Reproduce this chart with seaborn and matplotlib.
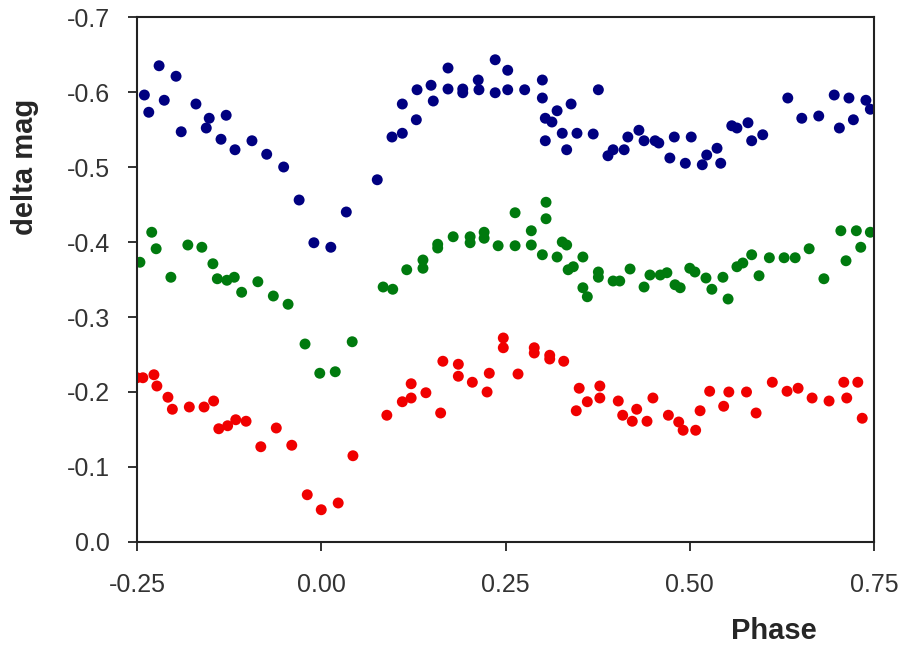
import pandas as pd
import matplotlib
matplotlib.use("Agg")
from matplotlib import pyplot as plt
import seaborn as sns

# fase e magnitudi
blue_phase = [-0.240, -0.234, -0.220, -0.213, -0.197, -0.190, -0.170, -0.156, -0.152, -0.129,
              -0.136, -0.117, -0.094, -0.074, -0.051, -0.030, -0.010, 0.013, 0.034, 0.076,
              0.096, 0.110, 0.110, 0.129, 0.130, 0.149, 0.152, 0.172, 0.172, 0.192,
              0.192, 0.213, 0.214, 0.236, 0.236, 0.253, 0.253, 0.276, 0.300, 0.300,
              0.376, 0.339, 0.320, 0.304, 0.313, 0.304, 0.327, 0.333, 0.347, 0.369,
              0.389, 0.396, 0.411, 0.416, 0.431, 0.438, 0.453, 0.458, 0.479, 0.473,
              0.494, 0.502, 0.517, 0.523, 0.537, 0.542, 0.557, 0.564, 0.579, 0.584,
              0.599, 0.633, 0.652, 0.675, 0.696, 0.703, 0.716, 0.722, 0.739, 0.745]
blue_mag = [-0.596, -0.573, -0.635, -0.589, -0.621, -0.547, -0.584, -0.552, -0.565, -0.569,
            -0.537, -0.523, -0.535, -0.517, -0.500, -0.456, -0.399, -0.393, -0.440, -0.483,
            -0.540, -0.545, -0.584, -0.563, -0.603, -0.609, -0.588, -0.632, -0.604, -0.604,
            -0.599, -0.616, -0.603, -0.643, -0.599, -0.629, -0.603, -0.603, -0.616, -0.592,
            -0.603, -0.584, -0.575, -0.565, -0.560, -0.535, -0.545, -0.523, -0.545, -0.544,
            -0.515, -0.523, -0.523, -0.540, -0.549, -0.535, -0.535, -0.532, -0.540, -0.512,
            -0.505, -0.540, -0.503, -0.516, -0.525, -0.505, -0.555, -0.552, -0.559, -0.535,
            -0.543, -0.592, -0.565, -0.568, -0.596, -0.552, -0.592, -0.563, -0.589, -0.577]

green_phase = [-0.246, -0.230, -0.224, -0.204, -0.181, -0.162, -0.147, -0.141, -0.128, -0.118,
               -0.108, -0.086, -0.065, -0.045, -0.022, -0.002, 0.019, 0.042, 0.084, 0.097,
               0.116, 0.138, 0.138, 0.158, 0.158, 0.179, 0.202, 0.202, 0.221, 0.221,
               0.240, 0.263, 0.263, 0.285, 0.285, 0.305, 0.305, 0.300, 0.320, 0.327,
               0.333, 0.355, 0.335, 0.342, 0.355, 0.361, 0.376, 0.376, 0.396, 0.405,
               0.419, 0.438, 0.446, 0.460, 0.469, 0.480, 0.487, 0.500, 0.507, 0.522,
               0.530, 0.545, 0.552, 0.564, 0.572, 0.584, 0.594, 0.608, 0.628, 0.643,
               0.662, 0.682, 0.705, 0.712, 0.726, 0.732, 0.745]
green_mag = [-0.373, -0.413, -0.391, -0.353, -0.396, -0.393, -0.371, -0.351, -0.349, -0.353,
             -0.333, -0.347, -0.328, -0.317, -0.264, -0.225, -0.227, -0.267, -0.340, -0.337,
             -0.363, -0.376, -0.365, -0.397, -0.392, -0.407, -0.407, -0.399, -0.413, -0.405,
             -0.395, -0.439, -0.395, -0.415, -0.396, -0.453, -0.431, -0.383, -0.380, -0.400,
             -0.396, -0.380, -0.363, -0.367, -0.339, -0.327, -0.360, -0.353, -0.348, -0.348,
             -0.364, -0.340, -0.356, -0.356, -0.359, -0.343, -0.339, -0.365, -0.360, -0.352,
             -0.337, -0.353, -0.324, -0.367, -0.372, -0.383, -0.355, -0.379, -0.379, -0.379,
             -0.391, -0.351, -0.415, -0.375, -0.415, -0.393, -0.413]

red_phase = [-0.250, -0.242, -0.227, -0.223, -0.208, -0.202, -0.179, -0.159, -0.146, -0.139,
             -0.127, -0.116, -0.102, -0.082, -0.061, -0.040, -0.019, 0.000, 0.023, 0.043,
             0.089, 0.110, 0.122, 0.122, 0.142, 0.162, 0.165, 0.186, 0.186, 0.205,
             0.225, 0.228, 0.247, 0.247, 0.267, 0.289, 0.289, 0.310, 0.310, 0.329,
             0.350, 0.346, 0.361, 0.378, 0.378, 0.403, 0.409, 0.428, 0.422, 0.442,
             0.450, 0.471, 0.485, 0.491, 0.508, 0.514, 0.527, 0.553, 0.546, 0.577,
             0.590, 0.612, 0.632, 0.647, 0.666, 0.689, 0.709, 0.713, 0.728, 0.734]
red_mag = [-0.219, -0.219, -0.223, -0.208, -0.193, -0.177, -0.180, -0.180, -0.188, -0.151,
           -0.155, -0.163, -0.161, -0.127, -0.152, -0.129, -0.063, -0.043, -0.052, -0.115,
           -0.169, -0.187, -0.192, -0.211, -0.199, -0.172, -0.241, -0.237, -0.221, -0.213,
           -0.200, -0.225, -0.272, -0.259, -0.224, -0.259, -0.252, -0.249, -0.244, -0.241,
           -0.205, -0.175, -0.187, -0.208, -0.192, -0.188, -0.169, -0.177, -0.161, -0.161,
           -0.192, -0.169, -0.160, -0.149, -0.149, -0.175, -0.201, -0.200, -0.181, -0.200,
           -0.172, -0.213, -0.201, -0.205, -0.192, -0.188, -0.213, -0.192, -0.213, -0.165]

x_ticks = [-0.25, 0.00, 0.25, 0.50, 0.75]
x_labels = ["-0.25", "0.00", "0.25", "0.50", "0.75"]
y_ticks = [0.0, -0.1, -0.2, -0.3, -0.4, -0.5, -0.6, -0.7]
y_labels = ["0.0", "-0.1", "-0.2", "-0.3", "-0.4", "-0.5", "-0.6", "-0.7"]

df = pd.concat([
    pd.DataFrame({"Phase": blue_phase, "mag": blue_mag, "band": "blue"}),
    pd.DataFrame({"Phase": green_phase, "mag": green_mag, "band": "green"}),
    pd.DataFrame({"Phase": red_phase, "mag": red_mag, "band": "red"}),
])

sns.set_style("white")
plt.rcParams["font.family"] = ["Liberation Sans", "DejaVu Sans"]

fig = plt.figure(figsize=(9.06, 6.47), dpi=100)
ax = fig.add_axes([0.1512, 0.1623, 0.8135, 0.8114])

sns.scatterplot(data=df, x="Phase", y="mag", hue="band",
                palette={"blue": "#000080", "green": "#007a0e", "red": "#f00000"},
                s=62, linewidth=0, legend=False, ax=ax)

ax.set_xlim(-0.25, 0.75)
ax.set_ylim(0.0, -0.7)
ax.set_xticks(x_ticks, x_labels)
ax.set_yticks(y_ticks, y_labels)
ax.tick_params(direction="out", length=6.5, width=1.3, color="#222222",
               labelsize=18, labelcolor="#333333", bottom=True, left=True)
ax.tick_params(axis="y", pad=13)
ax.tick_params(axis="x", pad=16)
for sp in ax.spines.values():
    sp.set_visible(True)
    sp.set_color("#222222")
    sp.set_linewidth(1.5)
ax.set_xlabel("")
ax.set_ylabel("")

fig.text(0.028, 0.742, "delta mag", rotation=90, ha="center", va="center",
         fontsize=21, fontweight="bold")
fig.text(0.854, 0.024, "Phase", ha="center", va="center",
         fontsize=21, fontweight="bold")

fig.savefig("out.png", dpi=100)
